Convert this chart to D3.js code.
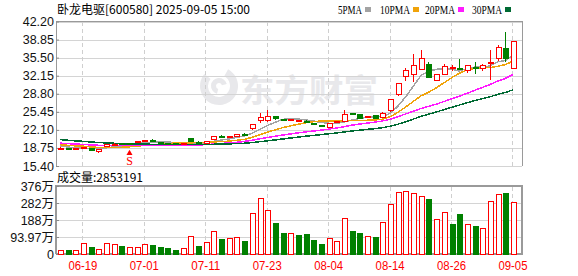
<!DOCTYPE html>
<html>
<head>
<meta charset="utf-8">
<script src="https://cdn.jsdelivr.net/npm/d3@7"></script>
<style>
  body { margin: 0; background: #fff; }
  svg { display: block; }
  .date-axis text { fill: #ff0000; }
</style>
</head>
<body>
<script>
// ---- data ----
const dates = [
  "06-16","06-17","06-18","06-19","06-20","06-23","06-24","06-25","06-26","06-27",
  "06-30","07-01","07-02","07-03","07-04","07-07","07-08","07-09","07-10","07-11",
  "07-14","07-15","07-16","07-17","07-18","07-21","07-22","07-23","07-24","07-25",
  "07-28","07-29","07-30","07-31","08-01","08-04","08-05","08-06","08-07","08-08",
  "08-11","08-12","08-13","08-14","08-15","08-18","08-19","08-20","08-21","08-22",
  "08-25","08-26","08-27","08-28","08-29","09-01","09-02","09-03","09-04","09-05"
];
const opens = [
  18.62,18.72,18.58,18.62,18.70,18.05,19.00,19.40,19.58,19.55,
  19.78,19.95,20.10,19.80,19.65,19.52,19.42,20.54,19.85,19.62,
  20.40,20.85,20.68,20.85,21.30,22.30,23.90,23.82,24.54,24.10,
  23.95,23.72,23.70,23.28,23.00,22.58,23.55,23.62,25.05,24.86,
  24.42,24.80,24.43,25.66,28.57,31.96,32.28,33.39,34.26,31.22,
  32.46,33.60,33.55,33.08,33.65,33.52,34.32,35.38,37.10,33.52
];
const highs = [
  18.85,18.78,18.72,19.00,18.78,18.62,19.52,19.58,19.70,19.68,
  19.98,20.20,20.40,19.88,19.75,19.60,19.55,20.62,19.95,19.98,
  20.90,21.10,20.95,21.35,21.50,23.20,25.17,25.79,24.65,24.15,
  24.20,23.95,23.85,23.30,23.05,23.40,23.80,25.79,25.30,24.95,
  24.65,24.90,25.40,27.90,30.80,33.52,36.12,36.91,34.74,32.40,
  34.26,34.20,35.25,34.10,34.60,34.30,36.91,37.84,40.20,38.62
];
const lows = [
  18.55,18.58,18.45,18.55,18.15,17.88,18.95,19.30,19.38,19.42,
  19.70,19.88,19.95,19.62,19.50,19.40,19.35,19.85,19.62,19.55,
  20.30,20.70,20.55,20.80,21.05,22.08,23.30,23.62,24.00,23.80,
  23.80,23.55,23.50,22.95,22.60,22.50,23.45,23.55,24.85,24.05,
  24.30,24.20,24.35,25.50,28.40,31.10,31.04,33.20,31.70,31.10,
  32.28,33.00,33.40,32.60,32.40,33.00,31.35,34.90,34.74,33.45
];
const closes = [
  18.70,18.64,18.66,18.92,18.25,18.55,19.43,19.48,19.45,19.50,
  19.88,20.05,20.02,19.70,19.56,19.45,19.50,19.91,19.70,19.90,
  20.80,20.78,20.80,21.28,21.22,23.13,24.35,24.50,24.12,24.05,
  24.08,23.80,23.62,23.20,22.69,23.32,23.62,24.99,24.95,24.12,
  24.50,24.25,25.17,27.77,30.61,33.08,34.13,35.25,31.85,32.28,
  33.82,33.65,33.50,34.00,33.60,34.00,34.63,37.34,35.25,38.58
];
// volume, in 万 shares
const volumes = [
  18,19,18,57,35,24,60,50,40,35,
  35,50,46,37,29,20,29,94,42,62,
  123,79,84,90,70,222,308,242,169,114,
  112,101,106,75,51,88,68,198,123,112,
  94,90,176,272,341,347,336,319,299,193,
  228,161,217,165,150,139,292,327,332,285
];
// closes of the sessions before 06-16 (estimated), needed by the moving averages
const priorCloses = [
  22.2,22.0,21.9,21.6,21.8,21.5,21.3,21.4,21.2,21.1,
  20.6,20.3,20.1,20.2,19.9,19.8,19.7,19.9,19.6,19.4,
  19.7,19.8,19.5,19.5,19.5,19.5,19.4,19.3,18.6
];
const priceTicks = [15.40,18.75,22.10,25.45,28.80,32.15,35.50,38.85,42.20];
const volTicks = [0,93.97,187.94,281.91,375.88];
const volTickLabels = ["0","93.97万","188万","282万","376万"];
const dateTicks = ["06-19","07-01","07-11","07-23","08-04","08-14","08-26","09-05"];
const maPeriods = [5,10,20,30];
const maNames = ["5PMA","10PMA","20PMA","30PMA"];
const maColors = ["#a3a3a3","#f0a30a","#ff1aff","#006a33"];
const markers = [{ date: "06-27", text: "S" }];
const title = "卧龙电驱[600580] 2025-09-05 15:00";
const volumeTitle = "成交量:2853191";

// ---- layout ----
const width = 578, height = 276;
const left = 56, right = 522;
const priceTop = 21.5, priceBottom = 166;
const volTop = 186, volBottom = 254;
const up = "#ff0000", down = "#008000";

const rows = dates.map((d, i) => ({
  date: d, open: opens[i], high: highs[i], low: lows[i], close: closes[i],
  vol: volumes[i], prev: i ? closes[i - 1] : priorCloses[priorCloses.length - 1]
}));

const x = d3.scaleBand().domain(dates).range([left, left + dates.length * 7.68]);
const bw = x.bandwidth();
const cx = (d) => Math.round(x(d) + bw / 2);
const y = d3.scaleLinear().domain([15.40, 42.20]).range([priceBottom, priceTop]);
const yv = d3.scaleLinear().domain([0, 375.88]).range([volBottom, volTop]);

const svg = d3.select("body").append("svg")
  .attr("width", width).attr("height", height)
  .attr("font-family", "'Liberation Sans', Arial, sans-serif");

// ---- watermark ----
const wm = svg.append("g").attr("fill", "#e6e6e9").attr("opacity", 0.9);
wm.append("path")
  .attr("transform", "translate(219,86)")
  .attr("d", d3.arc().innerRadius(11).outerRadius(19).startAngle(0.5).endAngle(5.4)());
wm.append("path")
  .attr("transform", "translate(219,86)")
  .attr("d", d3.arc().innerRadius(3).outerRadius(8).startAngle(3.4).endAngle(7.6)());
wm.append("text")
  .attr("x", 240).attr("y", 102)
  .attr("font-family", "'Noto Sans CJK SC'")
  .attr("font-weight", 700)
  .attr("font-size", 32)
  .attr("textLength", 138)
  .attr("lengthAdjust", "spacingAndGlyphs")
  .text("东方财富");

// ---- grids ----
const grid = svg.append("g").attr("shape-rendering", "crispEdges");
grid.append("g")
  .attr("transform", `translate(${left},0)`)
  .call(d3.axisLeft(y).tickValues(priceTicks).tickSize(-(right - left)).tickFormat(""))
  .call((g) => g.select(".domain").remove())
  .call((g) => g.selectAll("line").attr("stroke", "#d4d4d4"));
grid.append("g")
  .attr("transform", `translate(${left},0)`)
  .call(d3.axisLeft(yv).tickValues(volTicks.slice(1, 4)).tickSize(-(right - left)).tickFormat(""))
  .call((g) => g.select(".domain").remove())
  .call((g) => g.selectAll("line").attr("stroke", "#d4d4d4"));
for (const [t, b] of [[priceTop, priceBottom], [volTop, volBottom]]) {
  grid.append("g")
    .attr("transform", `translate(0,${b})`)
    .call(d3.axisBottom(x).tickValues(dateTicks).tickSize(-(b - t)).tickFormat(""))
    .call((g) => g.select(".domain").remove())
    .call((g) => g.selectAll("line").attr("stroke", "#cfcfcf").attr("stroke-dasharray", "4,3"));
}

// ---- frames ----
const frame = svg.append("g").attr("fill", "none").attr("stroke", "#9a9a9a")
  .attr("shape-rendering", "crispEdges");
frame.append("path").attr("d", `M${left},${priceBottom}V${priceTop}H${right}V${priceBottom}`);
frame.append("path").attr("d", `M${left},${volBottom}V${volTop}H${right}V${volBottom}H${left}`)
  .attr("stroke-width", 1.5);

// ---- axes labels ----
svg.append("g")
  .attr("transform", `translate(${left},0)`)
  .call(d3.axisLeft(y).tickValues(priceTicks).tickFormat(d3.format(".2f")).tickSizeInner(-3).tickSizeOuter(0).tickPadding(2))
  .call((g) => g.select(".domain").remove())
  .call((g) => g.selectAll("line").attr("stroke", "#8a8a8a"))
  .call((g) => g.selectAll("text").attr("font-size", 12.5).attr("fill", "#111")
    .attr("font-family", "'Liberation Sans', Arial, sans-serif"));
svg.append("g")
  .attr("transform", `translate(${left},0)`)
  .call(d3.axisLeft(yv).tickValues(volTicks).tickFormat((d, i) => volTickLabels[i]).tickSizeInner(-3).tickSizeOuter(0).tickPadding(2))
  .call((g) => g.select(".domain").remove())
  .call((g) => g.selectAll("line").attr("stroke", "#8a8a8a"))
  .call((g) => g.selectAll("text").attr("font-size", 12.5).attr("fill", "#111")
    .attr("font-family", "'Liberation Sans', 'Noto Sans CJK SC', sans-serif"));
svg.append("g")
  .attr("class", "date-axis")
  .attr("transform", `translate(0,${volBottom})`)
  .call(d3.axisBottom(x).tickValues(dateTicks).tickSize(0).tickPadding(7))
  .call((g) => g.select(".domain").remove())
  .call((g) => g.selectAll("text").attr("font-size", 12).attr("fill", up).style("fill", up)
    .attr("textLength", 29).attr("lengthAdjust", "spacingAndGlyphs")
    .attr("font-family", "'Liberation Sans', Arial, sans-serif"));

// ---- moving averages ----
const allCloses = priorCloses.concat(closes);
const off = priorCloses.length;
const line = d3.line().x((d, i) => x(dates[i]) + bw / 2).y((d) => y(d));
maPeriods.forEach((p, k) => {
  const ma = closes.map((_, i) => d3.mean(allCloses.slice(off + i - p + 1, off + i + 1)));
  svg.append("path")
    .attr("d", line(ma))
    .attr("fill", "none")
    .attr("stroke", maColors[k])
    .attr("stroke-width", 1.5)
    .attr("shape-rendering", "crispEdges");
});

// ---- candles ----
const candle = svg.append("g").attr("shape-rendering", "crispEdges")
  .selectAll("g").data(rows).join("g")
  .attr("stroke", (d) => (d.close >= d.open ? up : down));
candle.append("line")
  .attr("x1", (d) => cx(d.date) + 0.5).attr("x2", (d) => cx(d.date) + 0.5)
  .attr("y1", (d) => y(d.high)).attr("y2", (d) => y(d.low));
candle.append("rect")
  .attr("x", (d) => cx(d.date) - 2)
  .attr("width", 5)
  .attr("y", (d) => y(Math.max(d.open, d.close)))
  .attr("height", (d) => Math.max(1, Math.abs(y(d.open) - y(d.close))))
  .attr("fill", (d) => (d.close >= d.open ? "#fff" : down));

// ---- markers ----
const mk = svg.append("g").attr("fill", up);
mk.selectAll("path").data(markers).join("path")
  .attr("transform", (d) => `translate(${cx(d.date) + 0.5},${y(lows[dates.indexOf(d.date)]) + 9})`)
  .attr("d", d3.symbol(d3.symbolTriangle, 16));
mk.selectAll("text").data(markers).join("text")
  .attr("x", (d) => cx(d.date) + 0.5)
  .attr("y", (d) => y(lows[dates.indexOf(d.date)]) + 21)
  .attr("text-anchor", "middle")
  .attr("font-size", 12)
  .attr("font-family", "'Liberation Serif', serif")
  .text((d) => d.text);

// ---- volume bars ----
svg.append("g").attr("shape-rendering", "crispEdges")
  .selectAll("rect").data(rows).join("rect")
  .attr("x", (d) => cx(d.date) - 2)
  .attr("width", 5)
  .attr("y", (d) => yv(d.vol))
  .attr("height", (d) => volBottom - yv(d.vol))
  .attr("fill", (d) => (d.close >= d.prev ? "#fff" : down))
  .attr("stroke", (d) => (d.close >= d.prev ? up : down));

// ---- titles and legend ----
svg.append("text")
  .attr("x", 57).attr("y", 14)
  .attr("font-size", 12)
  .attr("font-family", "'Noto Sans CJK SC', sans-serif")
  .text(title);
svg.append("text")
  .attr("x", 57).attr("y", 182)
  .attr("font-size", 12)
  .attr("font-family", "'Noto Sans CJK SC', sans-serif")
  .text(volumeTitle);

const legendX = [338, 380, 425, 472];
const legend = svg.append("g");
maNames.forEach((name, k) => {
  legend.append("text")
    .attr("x", legendX[k]).attr("y", 14)
    .attr("font-size", 12)
    .attr("font-family", "'Liberation Serif', serif")
    .attr("textLength", name.length * 6)
    .attr("lengthAdjust", "spacingAndGlyphs")
    .text(name);
  legend.append("rect")
    .attr("x", legendX[k] + name.length * 6 + 3).attr("y", 7)
    .attr("width", 6).attr("height", 5)
    .attr("fill", maColors[k]);
});
</script>
</body>
</html>
